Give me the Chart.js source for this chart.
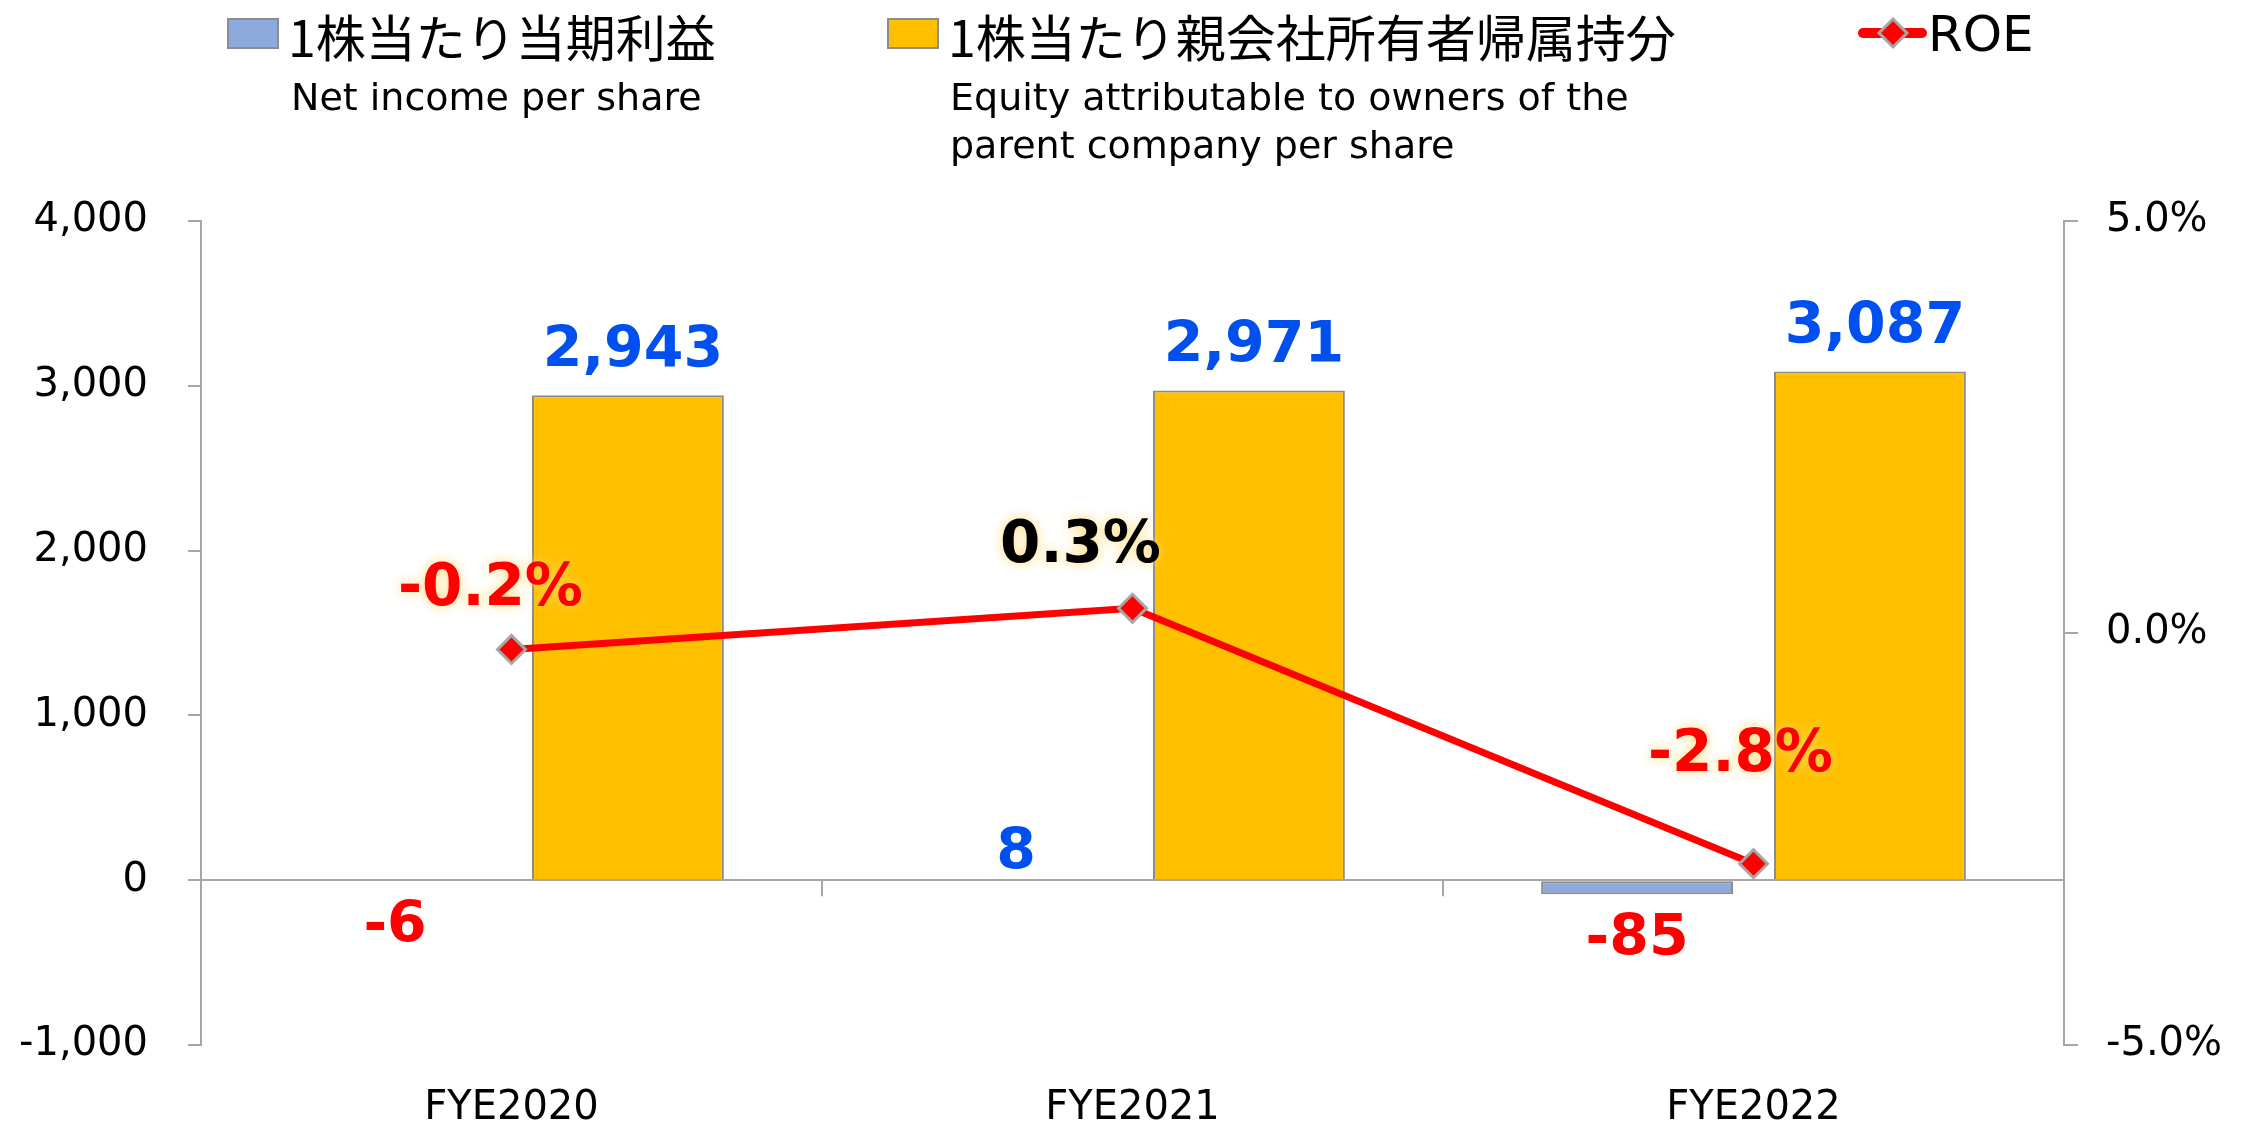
<!DOCTYPE html>
<html>
<head>
<meta charset="utf-8">
<script src="https://cdn.jsdelivr.net/npm/chart.js@4.4.0/dist/chart.umd.min.js"></script>
<style>
  body { margin: 0; background: #fff; }
  #wrap { position: relative; width: 2247px; height: 1127px; }
  .lg { position: absolute; white-space: nowrap; color: #000; }
  .jp { font-family: 'Noto Sans CJK JP', sans-serif; font-size: 50px; line-height: 50px; top: 10px; }
  .en { font-family: 'DejaVu Sans', sans-serif; font-size: 38px; line-height: 48px; top: 73px; }
  .box { position: absolute; top: 18px; width: 52px; height: 31px; box-sizing: border-box; border: 2px solid #8c8c8c; }
</style>
</head>
<body>
<div id="wrap">
  <canvas id="roeChart" width="2247" height="1127"></canvas>
  <div class="box" style="left:227px; background:#8ea9db;"></div>
  <div class="lg jp" style="left:288px;">1株当たり当期利益</div>
  <div class="lg en" style="left:291px;">Net income per share</div>
  <div class="box" style="left:887px; background:#ffc000;"></div>
  <div class="lg jp" style="left:948px;">1株当たり親会社所有者帰属持分</div>
  <div class="lg en" style="left:950px;">Equity attributable to owners of the<br>parent company per share</div>
  <svg style="position:absolute; left:1855px; top:10px;" width="75" height="48">
    <line x1="8" y1="23" x2="67" y2="23" stroke="#ff0000" stroke-width="10" stroke-linecap="round"/>
    <polygon points="38,9 52,23 38,37 24,23" fill="#ff0000" stroke="#a6a6a6" stroke-width="3"/>
  </svg>
  <div class="lg" style="left:1928px; top:4px; font-family:'DejaVu Sans', sans-serif; font-size:50px; line-height:60px;">ROE</div>
</div>
<script>
// chart data
var years = ['FYE2020', 'FYE2021', 'FYE2022'];
var netIncome = [-6, 8, -85];
var equity = [2943, 2971, 3087];
var roe = [-0.2, 0.3, -2.8];

// value labels: vertical shift from bar end / point, horizontal shift for ROE
var labelShift = {
    0: [{dx: 0, dy: 46}, {dx: 0, dy: -25}, {dx: 0, dy: 46}],
    1: [{dx: 5, dy: -43}, {dx: 5, dy: -43}, {dx: 5, dy: -43}],
    2: [{dx: -21, dy: -60}, {dx: -52, dy: -61}, {dx: -13, dy: -108}]
};

var valueLabels = {
    id: 'valueLabels',
    afterDatasetsDraw: function(chart) {
        var ctx = chart.ctx;
        ctx.save();
        ctx.textAlign = 'center';
        ctx.textBaseline = 'middle';
        chart.data.datasets.forEach(function(ds, di) {
            var meta = chart.getDatasetMeta(di);
            meta.data.forEach(function(el, i) {
                var v = ds.data[i];
                var s = labelShift[di][i];
                var text, color;
                ctx.shadowBlur = 0;
                ctx.shadowColor = 'transparent';
                if (di === 2) {
                    text = v.toFixed(1) + '%';
                    color = v < 0 ? '#ff0000' : '#000000';
                    ctx.font = 'bold 58px "DejaVu Sans"';
                    ctx.shadowColor = 'rgba(255, 215, 110, 0.95)';
                    ctx.shadowBlur = 12;
                } else {
                    text = v.toLocaleString('en-US');
                    color = v < 0 ? '#ff0000' : '#0050f0';
                    ctx.font = 'bold 57px "DejaVu Sans"';
                }
                ctx.fillStyle = color;
                ctx.fillText(text, el.x + s.dx, el.y + s.dy);
            });
        });
        ctx.restore();
    }
};

// small category ticks hanging under the zero line
var catTicks = {
    id: 'catTicks',
    afterDraw: function(chart) {
        var x = chart.scales.x, y = chart.scales.y;
        var ctx = chart.ctx;
        var y0 = y.getPixelForValue(0);
        ctx.save();
        ctx.strokeStyle = '#a6a6a6';
        ctx.lineWidth = 2;
        for (var i = 1; i < years.length; i++) {
            var px = (x.getPixelForValue(i - 1) + x.getPixelForValue(i)) / 2;
            ctx.beginPath();
            ctx.moveTo(px, y0);
            ctx.lineTo(px, y0 + 16);
            ctx.stroke();
        }
        ctx.restore();
    }
};

var ctxRoe = document.getElementById('roeChart').getContext('2d');
var roeChart = new Chart(ctxRoe, {
    type: 'bar',
    data: {
        labels: years,
        datasets: [{
            label: '1株当たり当期利益',
            data: netIncome,
            backgroundColor: '#8ea9db',
            borderColor: '#8c8c8c',
            borderWidth: 2,
            borderSkipped: false,
            categoryPercentage: 0.75,
            barPercentage: 0.824,
            order: 1
        }, {
            label: '1株当たり親会社所有者帰属持分',
            data: equity,
            backgroundColor: '#ffc000',
            borderColor: '#8c8c8c',
            borderWidth: 2,
            categoryPercentage: 0.75,
            barPercentage: 0.824,
            order: 1
        }, {
            type: 'line',
            label: 'ROE',
            data: roe,
            yAxisID: 'y1',
            borderColor: '#ff0000',
            backgroundColor: '#ff0000',
            borderWidth: 7,
            pointStyle: 'rectRot',
            pointRadius: 14,
            pointBorderColor: '#a6a6a6',
            pointBorderWidth: 3,
            pointBackgroundColor: '#ff0000',
            order: 0
        }]
    },
    options: {
        responsive: false,
        animation: false,
        layout: {
            padding: { top: 221, left: 0, right: 0, bottom: 0 }
        },
        scales: {
            x: {
                grid: { display: false, drawTicks: false },
                border: { display: false },
                ticks: {
                    color: '#000',
                    padding: 40,
                    font: { family: 'DejaVu Sans', size: 40 }
                },
                afterFit: function(s) { s.height = 82; }
            },
            y: {
                position: 'left',
                min: -1000,
                max: 4000,
                ticks: {
                    stepSize: 1000,
                    color: '#000',
                    padding: 40,
                    font: { family: 'DejaVu Sans', size: 40 },
                    callback: function(v) { return v.toLocaleString('en-US'); }
                },
                grid: {
                    color: function(c) { return c.tick && c.tick.value === 0 ? '#a6a6a6' : 'rgba(0,0,0,0)'; },
                    tickColor: '#a6a6a6',
                    tickLength: 13,
                    lineWidth: 2
                },
                border: { color: '#a6a6a6', width: 2 },
                afterFit: function(s) { s.width = 201; }
            },
            y1: {
                position: 'right',
                min: -5,
                max: 5,
                ticks: {
                    stepSize: 5,
                    color: '#000',
                    padding: 28,
                    font: { family: 'DejaVu Sans', size: 40 },
                    callback: function(v) { return v.toFixed(1) + '%'; }
                },
                grid: {
                    drawOnChartArea: false,
                    tickColor: '#a6a6a6',
                    tickLength: 14,
                    lineWidth: 2
                },
                border: { color: '#a6a6a6', width: 2 },
                afterFit: function(s) { s.width = 183; }
            }
        },
        plugins: {
            legend: { display: false },
            tooltip: { enabled: false }
        }
    },
    plugins: [valueLabels, catTicks]
});
</script>
</body>
</html>
